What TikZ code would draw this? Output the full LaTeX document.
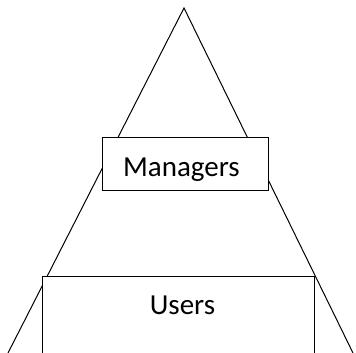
\documentclass[tikz,border=0pt]{standalone}
\usepackage{fontspec}
\setmainfont{Carlito}
\begin{document}
\begin{tikzpicture}[x=1pt,y=1pt,
  edge/.style={line width=1pt, line cap=round},
  tier/.style={draw, line width=1pt, fill=white, rectangle, inner sep=0pt},
  tiertext/.style={font=\fontsize{29}{35}\selectfont, anchor=base, inner sep=0pt}]
  \useasboundingbox (0,0) rectangle (356,353);
  \begin{scope}
    \clip (0,0) rectangle (356,353);
    % pyramid outline
    \coordinate (apex) at (184,345);
    \coordinate (baseL) at (8,0);
    \coordinate (baseR) at (353,0);
    \draw[edge] (baseL) -- (apex) -- (baseR);
    % upper tier
    \node[tier, minimum width=166pt, minimum height=53pt] (mgrbox) at (185,188.5) {};
    \node[tiertext] (managers) at (181.5,176) {Managers};
    % lower tier, running past the bottom edge
    \node[tier, minimum width=272pt, minimum height=95pt, anchor=north] (usrbox) at (178,77) {};
    \node[tiertext] (users) at (182.5,38) {Users};
  \end{scope}
\end{tikzpicture}
\end{document}
